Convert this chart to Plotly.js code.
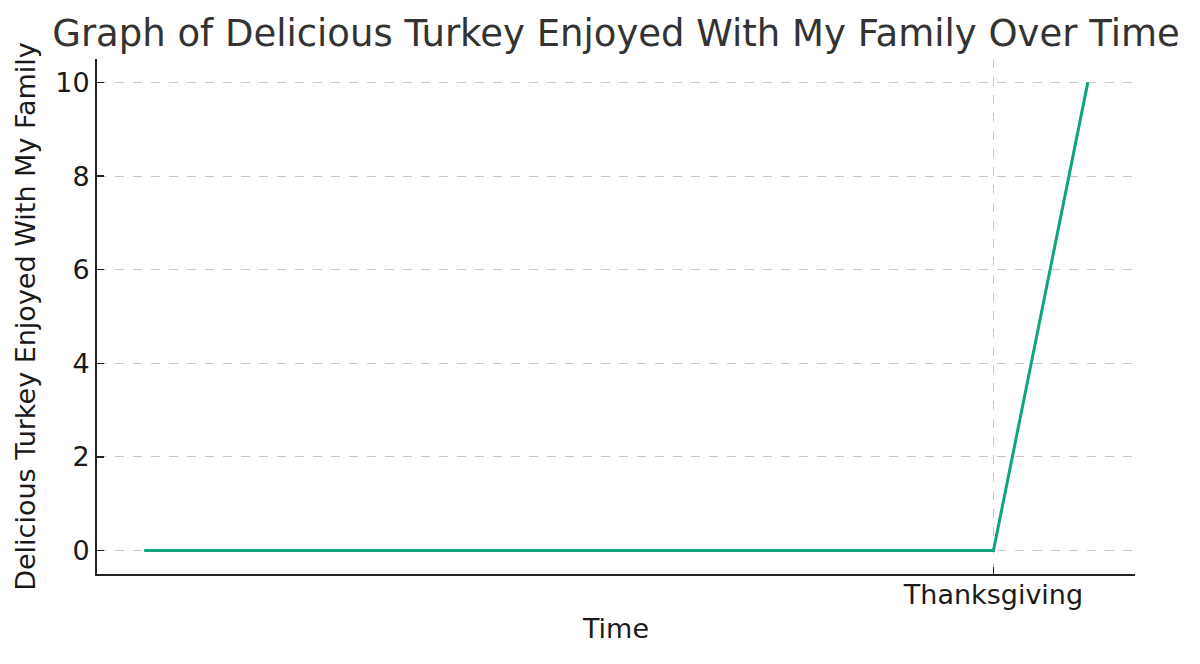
<!DOCTYPE html>
<html>
<head>
<meta charset="utf-8">
<script src="https://cdn.plot.ly/plotly-3.0.1.min.js"></script>
<style>
  html, body { margin: 0; padding: 0; background: #fff; }
  #chart { width: 1200px; height: 664px; }
</style>
</head>
<body>
<div id="chart"></div>
<script>
// time steps and the amount of turkey at each one
const timeSteps = [0, 1, 2, 3, 4, 5, 6, 7, 8, 9, 10];
const turkeyValues = [0, 0, 0, 0, 0, 0, 0, 0, 0, 0, 10];
const xTickVals = [9];
const xTickText = ["Thanksgiving"];
const yTickVals = [0, 2, 4, 6, 8, 10];

const fontFamily = "DejaVu Sans, sans-serif";

var trace = {
  x: timeSteps,
  y: turkeyValues,
  type: "scatter",
  mode: "lines",
  line: { color: "#10a37f", width: 3 },
  showlegend: false,
  hoverinfo: "skip",
};

var layout = {
  width: 1200,
  height: 664,
  paper_bgcolor: "white",
  plot_bgcolor: "white",
  font: { family: fontFamily, color: "#1a1a1a" },
  title: {
    text: "Graph of Delicious Turkey Enjoyed With My Family Over Time",
    font: { size: 37, color: "#333", family: fontFamily },
    xref: "paper",
    x: 0.5,
    xanchor: "center",
    yref: "container",
    y: 0.95,
    yanchor: "middle",
  },
  xaxis: {
    title: { text: "Time", font: { size: 27 }, standoff: 10 },
    range: [-0.5, 10.5],
    tickvals: xTickVals,
    ticktext: xTickText,
    tickfont: { size: 27 },
    ticklabelstandoff: -4,
    ticks: "inside",
    ticklen: 7,
    tickwidth: 1.5,
    tickcolor: "#222",
    showline: true,
    linecolor: "#222",
    linewidth: 2,
    showgrid: true,
    gridcolor: "#c8c8c8",
    griddash: "dash",
    gridwidth: 1,
    zeroline: false,
  },
  yaxis: {
    title: { text: "Delicious Turkey Enjoyed With My Family", font: { size: 27 }, standoff: 12 },
    range: [-0.5, 10.5],
    tickvals: yTickVals,
    tickfont: { size: 27 },
    ticks: "inside",
    ticklen: 7,
    tickwidth: 1.5,
    tickcolor: "#222",
    showline: true,
    linecolor: "#222",
    linewidth: 2,
    showgrid: true,
    gridcolor: "#c8c8c8",
    griddash: "dash",
    gridwidth: 1,
    zeroline: false,
  },
  margin: { l: 97, r: 65, t: 59, b: 90, pad: 0 },
};

Plotly.newPlot("chart", [trace], layout, { displayModeBar: false, staticPlot: true });
</script>
</body>
</html>
